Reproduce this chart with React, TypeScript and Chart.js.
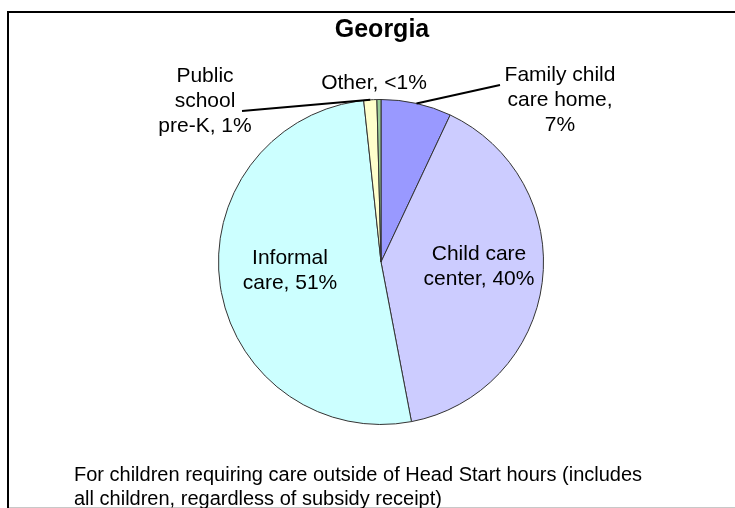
import React, { useEffect, useRef } from "react";
import { Chart, registerables } from "chart.js";

Chart.register(...registerables);

const TITLE = "Georgia";
const CATEGORIES = ["Family child care home", "Child care center", "Informal care", "Public school pre-K", "Other"];
const VALUES = [7, 40, 51.3, 1.3, 0.4];
const LABEL_TEXT = [
  ["Family child", "care home,", "7%"],
  ["Child care", "center, 40%"],
  ["Informal", "care, 51%"],
  ["Public", "school", "pre-K, 1%"],
  ["Other, <1%"],
];
const FOOTNOTE = [
  "For children requiring care outside of Head Start hours (includes",
  "all children, regardless of subsidy receipt)",
];

// styles / layout (not data)
const COLORS = ["#9999FF", "#CCCCFF", "#CCFFFF", "#FFFFCC", "#99CC99"];
// text-block centre offsets from pie centre, and optional leader-line end offsets
const LABEL_POS: { dx: number; dy: number; leader?: [number, number] }[] = [
  { dx: 179, dy: -162, leader: [119, -177] },
  { dx: 98, dy: 5 },
  { dx: -91, dy: 9 },
  { dx: -176, dy: -161, leader: [-139, -151] },
  { dx: -7, dy: -179 },
];

const FONT = '"Liberation Sans", Arial, sans-serif';

const decor = {
  id: "decor",
  afterDraw(chart: any) {
    const ctx = chart.ctx as CanvasRenderingContext2D;
    const W = chart.width;
    ctx.save();
    // frame
    ctx.strokeStyle = "#000";
    ctx.lineWidth = 2;
    ctx.beginPath();
    ctx.moveTo(8, 520);
    ctx.lineTo(8, 12);
    ctx.lineTo(W + 10, 12);
    ctx.stroke();
    ctx.strokeStyle = "#c8c8c8";
    ctx.lineWidth = 1;
    ctx.beginPath();
    ctx.moveTo(9, 507.5);
    ctx.lineTo(W, 507.5);
    ctx.stroke();

    // title
    ctx.fillStyle = "#000";
    ctx.textAlign = "center";
    ctx.textBaseline = "middle";
    ctx.font = `bold 25px ${FONT}`;
    ctx.fillText(TITLE, 382, 30);

    // slice labels
    const meta = chart.getDatasetMeta(0);
    ctx.font = `21px ${FONT}`;
    meta.data.forEach((arc: any, i: number) => {
      const p = arc.getProps(["x", "y", "startAngle", "endAngle", "outerRadius"], true);
      const pos = LABEL_POS[i];
      const lines = LABEL_TEXT[i];
      if (pos.leader) {
        const mid = (p.startAngle + p.endAngle) / 2;
        const sx = p.x + Math.cos(mid) * p.outerRadius;
        const sy = p.y + Math.sin(mid) * p.outerRadius;
        ctx.strokeStyle = "#000";
        ctx.lineWidth = 2;
        ctx.beginPath();
        ctx.moveTo(sx, sy);
        ctx.lineTo(p.x + pos.leader[0], p.y + pos.leader[1]);
        ctx.stroke();
      }
      const cx = p.x + pos.dx;
      const cy = p.y + pos.dy;
      const lh = 25;
      const top = cy - ((lines.length - 1) * lh) / 2;
      lines.forEach((ln, j) => ctx.fillText(ln, cx, top + j * lh));
    });

    // footnote
    ctx.textAlign = "left";
    ctx.font = `20px ${FONT}`;
    FOOTNOTE.forEach((ln, j) => ctx.fillText(ln, 74, 475 + j * 24));
    ctx.restore();
  },
};

export default function App() {
  const ref = useRef<HTMLCanvasElement>(null);
  useEffect(() => {
    document.body.style.margin = "0";
    const chart = new Chart(ref.current!, {
      type: "pie",
      data: {
        labels: CATEGORIES,
        datasets: [
          {
            data: VALUES,
            backgroundColor: COLORS,
            borderColor: "#333333",
            borderWidth: 1,
          },
        ],
      },
      options: {
        animation: false,
        responsive: false,
        layout: { padding: { left: 218, right: 191, top: 99, bottom: 83 } },
        plugins: { legend: { display: false }, tooltip: { enabled: false }, title: { display: false } },
      },
      plugins: [decor],
    });
    return () => chart.destroy();
  }, []);
  return (
    <div style={{ width: 735, height: 508, background: "#fff" }}>
      <canvas ref={ref} width={735} height={508} style={{ display: "block" }} />
    </div>
  );
}
